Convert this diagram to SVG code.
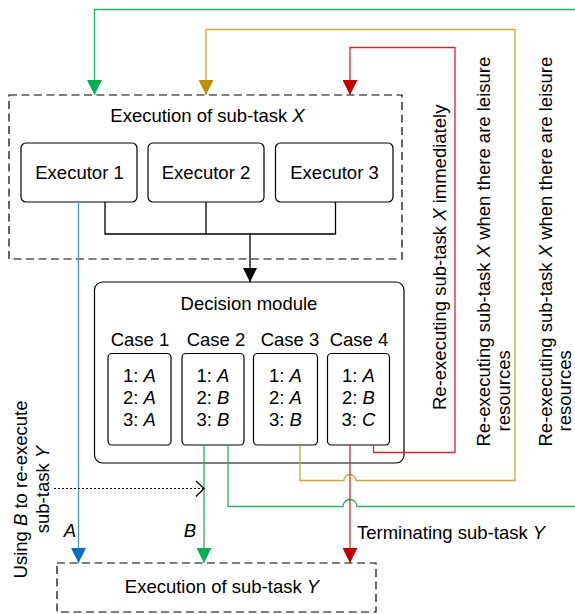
<svg xmlns="http://www.w3.org/2000/svg" width="575" height="614" viewBox="0 0 575 614">
<style>
text{font-family:"Liberation Sans",Arial,sans-serif;font-size:18.5px;fill:#000}
.it{font-style:italic}
.mid{text-anchor:middle}
.box{fill:#fff;stroke:#000;stroke-width:1.2}
.dash{fill:none;stroke:#000;stroke-width:1.2;stroke-dasharray:8 4.5}
.ln{fill:none;stroke-width:1.3}
.k{stroke:#000}
.g{stroke:#27B35E}
.o{stroke:#D2A534}
.r{stroke:#CE2C2C}
.b{stroke:#4A92D2}
</style>
<defs>
<marker id="ak" markerUnits="userSpaceOnUse" markerWidth="14" markerHeight="14" refX="14" refY="7" orient="auto"><path d="M0,0 L14,7 L0,14 z" fill="#000"/></marker>
<marker id="ag" markerUnits="userSpaceOnUse" markerWidth="15" markerHeight="15" refX="15" refY="7.5" orient="auto"><path d="M0,0 L15,7.5 L0,15 z" fill="#00B050"/></marker>
<marker id="ao" markerUnits="userSpaceOnUse" markerWidth="15" markerHeight="15" refX="15" refY="7.5" orient="auto"><path d="M0,0 L15,7.5 L0,15 z" fill="#BF9000"/></marker>
<marker id="ar" markerUnits="userSpaceOnUse" markerWidth="15" markerHeight="15" refX="15" refY="7.5" orient="auto"><path d="M0,0 L15,7.5 L0,15 z" fill="#C00000"/></marker>
<marker id="ab" markerUnits="userSpaceOnUse" markerWidth="15" markerHeight="15" refX="15" refY="7.5" orient="auto"><path d="M0,0 L15,7.5 L0,15 z" fill="#0070C0"/></marker>
</defs>

<g id="subtask-x">
<rect class="dash" x="9" y="95" width="393" height="164"/>
<text class="mid" x="207.5" y="122">Execution of sub-task <tspan class="it">X</tspan></text>
</g>
<g id="executor-1"><rect class="box" x="21" y="143" width="116" height="59" rx="5"/><text class="mid" x="79.5" y="178.5">Executor 1</text></g>
<g id="executor-2"><rect class="box" x="148" y="143" width="116" height="59" rx="5"/><text class="mid" x="206" y="178.5">Executor 2</text></g>
<g id="executor-3"><rect class="box" x="275.5" y="143" width="117.5" height="59" rx="5"/><text class="mid" x="334.5" y="178.5">Executor 3</text></g>

<g id="decision-module">
<rect class="box" x="94.5" y="282" width="309.5" height="181" rx="8"/>
<text class="mid" x="249" y="309.5">Decision module</text>
</g>
<g id="case-1">
<text class="mid" x="140" y="346">Case 1</text>
<rect class="box" x="108" y="353.5" width="63" height="91.5" rx="4"/>
<text class="mid" x="139.5" y="382">1: <tspan class="it">A</tspan></text>
<text class="mid" x="139.5" y="404">2: <tspan class="it">A</tspan></text>
<text class="mid" x="139.5" y="426">3: <tspan class="it">A</tspan></text>
</g>
<g id="case-2">
<text class="mid" x="216" y="346">Case 2</text>
<rect class="box" x="182" y="353.5" width="62" height="91.5" rx="4"/>
<text class="mid" x="213" y="382">1: <tspan class="it">A</tspan></text>
<text class="mid" x="213" y="404">2: <tspan class="it">B</tspan></text>
<text class="mid" x="213" y="426">3: <tspan class="it">B</tspan></text>
</g>
<g id="case-3">
<text class="mid" x="290" y="346">Case 3</text>
<rect class="box" x="253.5" y="353.5" width="64" height="91.5" rx="4"/>
<text class="mid" x="285.5" y="382">1: <tspan class="it">A</tspan></text>
<text class="mid" x="285.5" y="404">2: <tspan class="it">A</tspan></text>
<text class="mid" x="285.5" y="426">3: <tspan class="it">B</tspan></text>
</g>
<g id="case-4">
<text class="mid" x="359" y="346">Case 4</text>
<rect class="box" x="327.5" y="353.5" width="62" height="91.5" rx="4"/>
<text class="mid" x="358.5" y="382">1: <tspan class="it">A</tspan></text>
<text class="mid" x="358.5" y="404">2: <tspan class="it">B</tspan></text>
<text class="mid" x="358.5" y="426">3: <tspan class="it">C</tspan></text>
</g>

<g id="subtask-y">
<rect class="dash" x="57" y="563" width="319" height="49"/>
<text class="mid" x="222" y="593">Execution of sub-task <tspan class="it">Y</tspan></text>
</g>

<g id="connectors">
<path class="ln k" d="M105,202 V234 H335.5 V202 M206,202 V234"/>
<path class="ln k" d="M250,234 V282" marker-end="url(#ak)"/>
<path class="ln b" d="M78.5,202 V563" marker-end="url(#ab)"/>
<path class="ln g" d="M204,445 V563" marker-end="url(#ag)"/>
<path class="ln g" d="M228,445 V506.5 H343 A7,7 0 0 1 357,506.5 H575"/>
<path class="ln g" d="M575,9.5 H94.5 V95" marker-end="url(#ag)"/>
<path class="ln o" d="M300,445 V480.5 H344 A6,6 0 0 1 356,480.5 H515 V29.5 H206 V95" marker-end="url(#ao)"/>
<path class="ln r" d="M373.5,445 V452.5 H455 V47.5 H350 V95" marker-end="url(#ar)"/>
<path class="ln r" d="M350,445 V563" marker-end="url(#ar)"/>
<path d="M54,488.5 H204" fill="none" stroke="#000" stroke-width="1.2" stroke-dasharray="2 2"/>
<polyline points="196,481 204,488.5 196,496.5" fill="none" stroke="#000" stroke-width="1.2"/>
</g>

<g id="labels">
<text class="it mid" x="70" y="537">A</text>
<text class="it mid" x="190" y="537">B</text>
<text x="357" y="539">Terminating sub-task <tspan class="it">Y</tspan></text>
<text transform="translate(446,410) rotate(-90)">Re-executing sub-task <tspan class="it">X</tspan> immediately</text>
<text transform="translate(490,446.5) rotate(-90)">Re-executing sub-task <tspan class="it">X</tspan> when there are leisure</text>
<text transform="translate(510,431.5) rotate(-90)">resources</text>
<text transform="translate(552,446.5) rotate(-90)">Re-executing sub-task <tspan class="it">X</tspan> when there are leisure</text>
<text transform="translate(571,431.5) rotate(-90)">resources</text>
<text class="mid" transform="translate(27,489.5) rotate(-90)">Using <tspan class="it">B</tspan> to re-execute</text>
<text class="mid" transform="translate(48.5,489.5) rotate(-90)">sub-task <tspan class="it">Y</tspan></text>
</g>
</svg>
